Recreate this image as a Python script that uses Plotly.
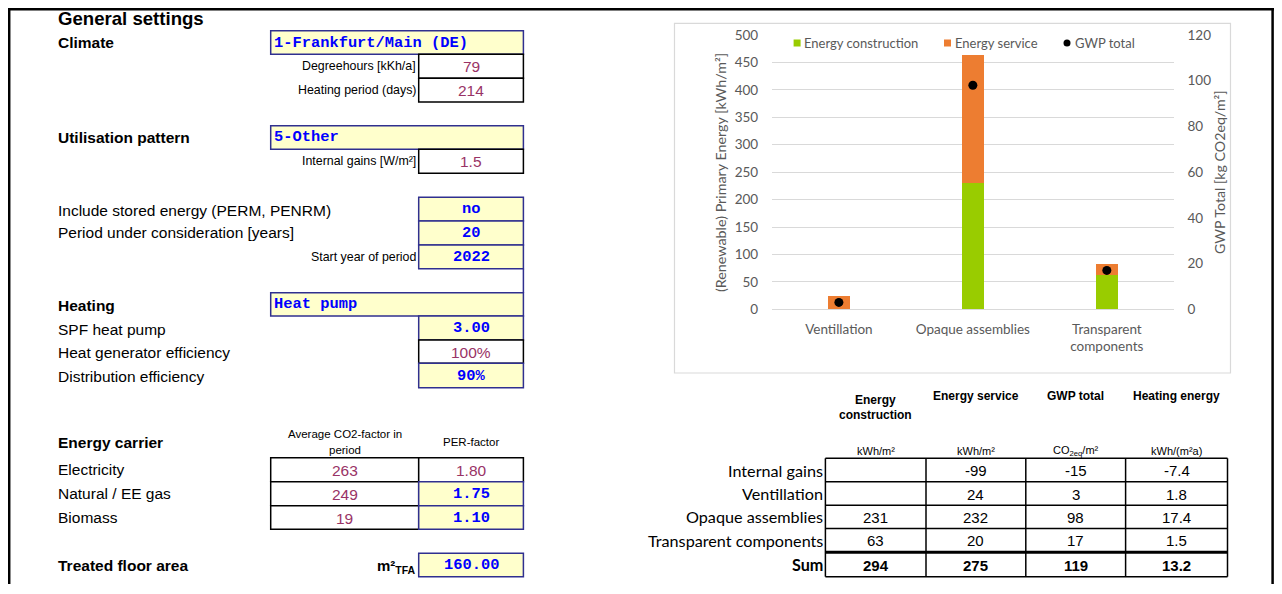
import plotly.graph_objects as go

# ---------------- data ----------------
categories = ["Ventillation", "Opaque assemblies", "Transparent components"]
category_ticktext = ["Ventillation", "Opaque assemblies", "Transparent<br>components"]
energy_construction = [0, 231, 63]
energy_service = [24, 232, 20]
gwp_total = [3, 98, 17]

y1_ticks = [0, 50, 100, 150, 200, 250, 300, 350, 400, 450, 500]
y2_ticks = [0, 20, 40, 60, 80, 100, 120]

table_rows = ["Internal gains", "Ventillation", "Opaque assemblies", "Transparent components", "Sum"]
table_headers = [["Energy", "construction"], ["Energy service"], ["GWP total"], ["Heating energy"]]
table_units = ["kWh/m²", "kWh/m²", "CO<sub>2eq</sub>/m²", "kWh/(m²a)"]
tab_energy_construction = ["", "", "231", "63", "294"]
tab_energy_service = ["-99", "24", "232", "20", "275"]
tab_gwp_total = ["-15", "3", "98", "17", "119"]
tab_heating_energy = ["-7.4", "1.8", "17.4", "1.5", "13.2"]

carriers = ["Electricity", "Natural / EE gas", "Biomass"]
carrier_co2 = ["263", "249", "19"]
carrier_per = ["1.80", "1.75", "1.10"]
carrier_per_input = [False, True, True]

# ---------------- helpers ----------------
# the page has an 8px body margin; the figure is sized to fit inside the window
OFF = 8
W, H = 1266, 576
def X(x): return (x - OFF) / W
def Y(y): return 1 - (y - OFF) / H

shapes = []
annotations = []

SANS = "Liberation Sans"
MONO = "Liberation Mono"
CAL = "Lato"
PURPLE = "#993366"
BLUE = "#0000ff"
YELLOW = "#ffffcc"
YBORDER = "#30308f"

def rect(x0, y0, x1, y1, fill="rgba(0,0,0,0)", line="black", lw=1.5):
    shapes.append(dict(type="rect", xref="paper", yref="paper",
                       x0=X(x0), x1=X(x1), y0=Y(y1), y1=Y(y0),
                       fillcolor=fill, line=dict(color=line, width=lw), layer="above"))

def hline(x0, x1, y, lw=1.5, color="black"):
    shapes.append(dict(type="line", xref="paper", yref="paper",
                       x0=X(x0), x1=X(x1), y0=Y(y), y1=Y(y),
                       line=dict(color=color, width=lw), layer="above"))

def vline(x, y0, y1, lw=1.5, color="black"):
    shapes.append(dict(type="line", xref="paper", yref="paper",
                       x0=X(x), x1=X(x), y0=Y(y0), y1=Y(y1),
                       line=dict(color=color, width=lw), layer="above"))

def text(x, y, s, size=15, family=SANS, color="black", anchor="left", bold=False, angle=0):
    if s == "":
        return
    if bold:
        s = "<b>" + s + "</b>"
    if anchor == "left":
        x -= 1
    elif anchor == "right":
        x += 1
    annotations.append(dict(xref="paper", yref="paper", x=X(x), y=Y(y), text=s,
                            showarrow=False, xanchor=anchor, yanchor="middle",
                            textangle=angle, borderpad=0,
                            font=dict(size=size, family=family, color=color)))

# ---------------- outer frame ----------------
hline(8, 1274, 9.2, lw=2.5)
vline(9.2, 8, 700, lw=2.5)
vline(1272.6, 8, 700, lw=2.5)

# ---------------- left panel ----------------
LX = 57.5
text(LX, 19, "General settings", size=18.6, bold=True)
text(LX, 42.7, "Climate", size=15.5, bold=True)
text(LX, 137.7, "Utilisation pattern", size=15.5, bold=True)
text(LX, 210, "Include stored energy (PERM, PENRM)", size=15.5)
text(LX, 232.7, "Period under consideration [years]", size=15.5)
text(LX, 305, "Heating", size=15.5, bold=True)
text(LX, 329, "SPF heat pump", size=15.5)
text(LX, 352, "Heat generator efficiency", size=15.5)
text(LX, 376, "Distribution efficiency", size=15.5)
text(LX, 442.7, "Energy carrier", size=15.5, bold=True)
text(LX, 565.7, "Treated floor area", size=15.5, bold=True)

RL = 415.5
text(RL, 66.3, "Degreehours [kKh/a]", size=12.4, anchor="right")
text(RL, 90.2, "Heating period (days)", size=12.4, anchor="right")
text(RL, 161.3, "Internal gains [W/m²]", size=12.4, anchor="right")
text(RL, 257, "Start year of period", size=12.4, anchor="right")
text(RL, 566.5, "m²<sub>TFA</sub>", size=15, anchor="right", bold=True)

WX0, WX1 = 270.7, 523.4
NX0, NX1 = 418.7, 523.4
NXC = (NX0 + NX1) / 2

def wide_box(y0, y1, s):
    rect(WX0, y0, WX1, y1, fill=YELLOW, line=YBORDER)
    text(274, (y0 + y1) / 2, s, size=15.4, family=MONO, color=BLUE, bold=True)

def narrow_box(y0, y1, s, inp, x0=NX0, x1=NX1):
    if inp:
        rect(x0, y0, x1, y1, fill=YELLOW, line=YBORDER)
        text((x0 + x1) / 2, (y0 + y1) / 2, s, size=15.4, family=MONO, color=BLUE, bold=True, anchor="center")
    else:
        rect(x0, y0, x1, y1, fill="white", line="black")
        text((x0 + x1) / 2, (y0 + y1) / 2 + 0.5, s, size=15.5, color=PURPLE, anchor="center")

wide_box(30.7, 54.3, "1-Frankfurt/Main (DE)")
narrow_box(54.3, 78.3, "79", False)
narrow_box(78.3, 102, "214", False)
wide_box(125.7, 149.3, "5-Other")
narrow_box(149.3, 173.3, "1.5", False)
narrow_box(197.3, 221, "no", True)
narrow_box(221, 245, "20", True)
narrow_box(245, 268.7, "2022", True)
vline(NX1, 268.7, 292.7, color=YBORDER)
wide_box(292.7, 316, "Heat pump")
narrow_box(316, 340, "3.00", True)
narrow_box(340, 363.3, "100%", False)
narrow_box(363.3, 387.7, "90%", True)

text(344.7, 434, "Average CO2-factor in", size=11.5, anchor="center")
text(344.7, 450, "period", size=11.5, anchor="center")
text(NXC, 442, "PER-factor", size=11.5, anchor="center")
row_y = [457.7, 481.7, 505.7, 529.3]
for i, name in enumerate(carriers):
    y0, y1 = row_y[i], row_y[i + 1]
    text(LX, (y0 + y1) / 2, name, size=15.5)
    narrow_box(y0, y1, carrier_co2[i], False, x0=WX0, x1=NX0)
    narrow_box(y0, y1, carrier_per[i], carrier_per_input[i])
narrow_box(553.3, 576.7, "160.00", True)

# ---------------- bottom-right table ----------------
cx = [825.4, 926, 1025.8, 1125.6, 1227.5]
ry = [458.3, 481.8, 505.2, 528.6, 552.3, 576.7]
centers = [(cx[i] + cx[i + 1]) / 2 for i in range(4)]
for i, hdr in enumerate(table_headers):
    if len(hdr) == 2:
        text(centers[i], 400, hdr[0], size=12, bold=True, anchor="center")
        text(centers[i], 415, hdr[1], size=12, bold=True, anchor="center")
    else:
        text(centers[i], 396, hdr[0], size=12, bold=True, anchor="center")
    text(centers[i], 450.7, table_units[i], size=11, anchor="center")

cols = [tab_energy_construction, tab_energy_service, tab_gwp_total, tab_heating_energy]
for r, label in enumerate(table_rows):
    ymid = (ry[r] + ry[r + 1]) / 2
    bold = label == "Sum"
    text(822.5, ymid, label, size=16.2, family=CAL, anchor="right", bold=bold)
    for c in range(4):
        text(centers[c], ymid + 0.5, cols[c][r], size=15, anchor="center", bold=bold)
for x in cx:
    vline(x, ry[0], ry[-1])
for j, y in enumerate(ry):
    hline(cx[0], cx[-1], y, lw=3 if j == 4 else 1.5)

# ---------------- chart ----------------
PX0, PX1 = 771.9, 1173.8
PY_TOP, PY_BOT = 35, 309.3
GREEN = "#99cc00"
ORANGE = "#ed7d31"
GRAY = "#595959"

# chart box
rect(674.5, 23.3, 1230.5, 373, line="#d9d9d9", lw=1.2)

fig = go.Figure()
fig.add_trace(go.Bar(x=categories, y=energy_construction, name="Energy construction",
                     marker=dict(color=GREEN, line=dict(width=0))))
fig.add_trace(go.Bar(x=categories, y=energy_service, name="Energy service",
                     marker=dict(color=ORANGE, line=dict(width=0))))
fig.add_trace(go.Scatter(x=categories, y=gwp_total, name="GWP total", mode="markers",
                         marker=dict(color="black", size=9), yaxis="y2"))

# legend (manual)
leg_y = 43
shapes.append(dict(type="rect", xref="paper", yref="paper", x0=X(793.6), x1=X(800.6),
                   y0=Y(leg_y + 3.5), y1=Y(leg_y - 3.5), fillcolor=GREEN, line=dict(width=0)))
shapes.append(dict(type="rect", xref="paper", yref="paper", x0=X(944), x1=X(951),
                   y0=Y(leg_y + 3.5), y1=Y(leg_y - 3.5), fillcolor=ORANGE, line=dict(width=0)))
shapes.append(dict(type="circle", xref="paper", yref="paper", x0=X(1063.5), x1=X(1070.5),
                   y0=Y(leg_y + 3.5), y1=Y(leg_y - 3.5), fillcolor="black", line=dict(width=0)))
text(803.5, leg_y, "Energy construction", size=13, family=CAL, color=GRAY)
text(954.5, leg_y, "Energy service", size=13, family=CAL, color=GRAY)
text(1074.5, leg_y, "GWP total", size=13, family=CAL, color=GRAY)

# axis titles
text(721, 173, "(Renewable) Primary Energy [kWh/m²]", size=14.3, family=CAL, color=GRAY,
     anchor="center", angle=-90)
text(1219, 172, "GWP Total [kg CO2eq/m²]", size=14.2, family=CAL, color=GRAY,
     anchor="center", angle=-90)

TICKF = dict(family=CAL, size=13.5, color=GRAY)
fig.update_layout(
    width=W, height=H, autosize=False,
    margin=dict(l=0, r=0, t=0, b=0),
    paper_bgcolor="white", plot_bgcolor="white",
    barmode="stack", bargap=0.832,
    showlegend=False,
    xaxis=dict(domain=[X(PX0), X(PX1)], type="category", automargin=False,
               tickvals=categories, ticktext=category_ticktext,
               tickfont=TICKF,
               ticks="outside", ticklen=7, tickcolor="rgba(0,0,0,0)",
               showline=False, showgrid=False, zeroline=False),
    yaxis=dict(domain=[Y(PY_BOT), Y(PY_TOP)], range=[0, 500], tickvals=y1_ticks,
               autorange=False, automargin=False,
               tickfont=TICKF,
               ticks="outside", ticklen=10, tickcolor="rgba(0,0,0,0)",
               showgrid=True, gridcolor="#d9d9d9", gridwidth=1,
               zeroline=True, zerolinecolor="#d9d9d9", zerolinewidth=1, showline=False),
    yaxis2=dict(overlaying="y", side="right", anchor="x", range=[0, 120], tickvals=y2_ticks,
                autorange=False, automargin=False,
                tickfont=TICKF,
                ticks="outside", ticklen=10, tickcolor="rgba(0,0,0,0)",
                showgrid=False, zeroline=False, showline=False),
    shapes=shapes,
    annotations=annotations,
)

fig.write_html("out.html")
